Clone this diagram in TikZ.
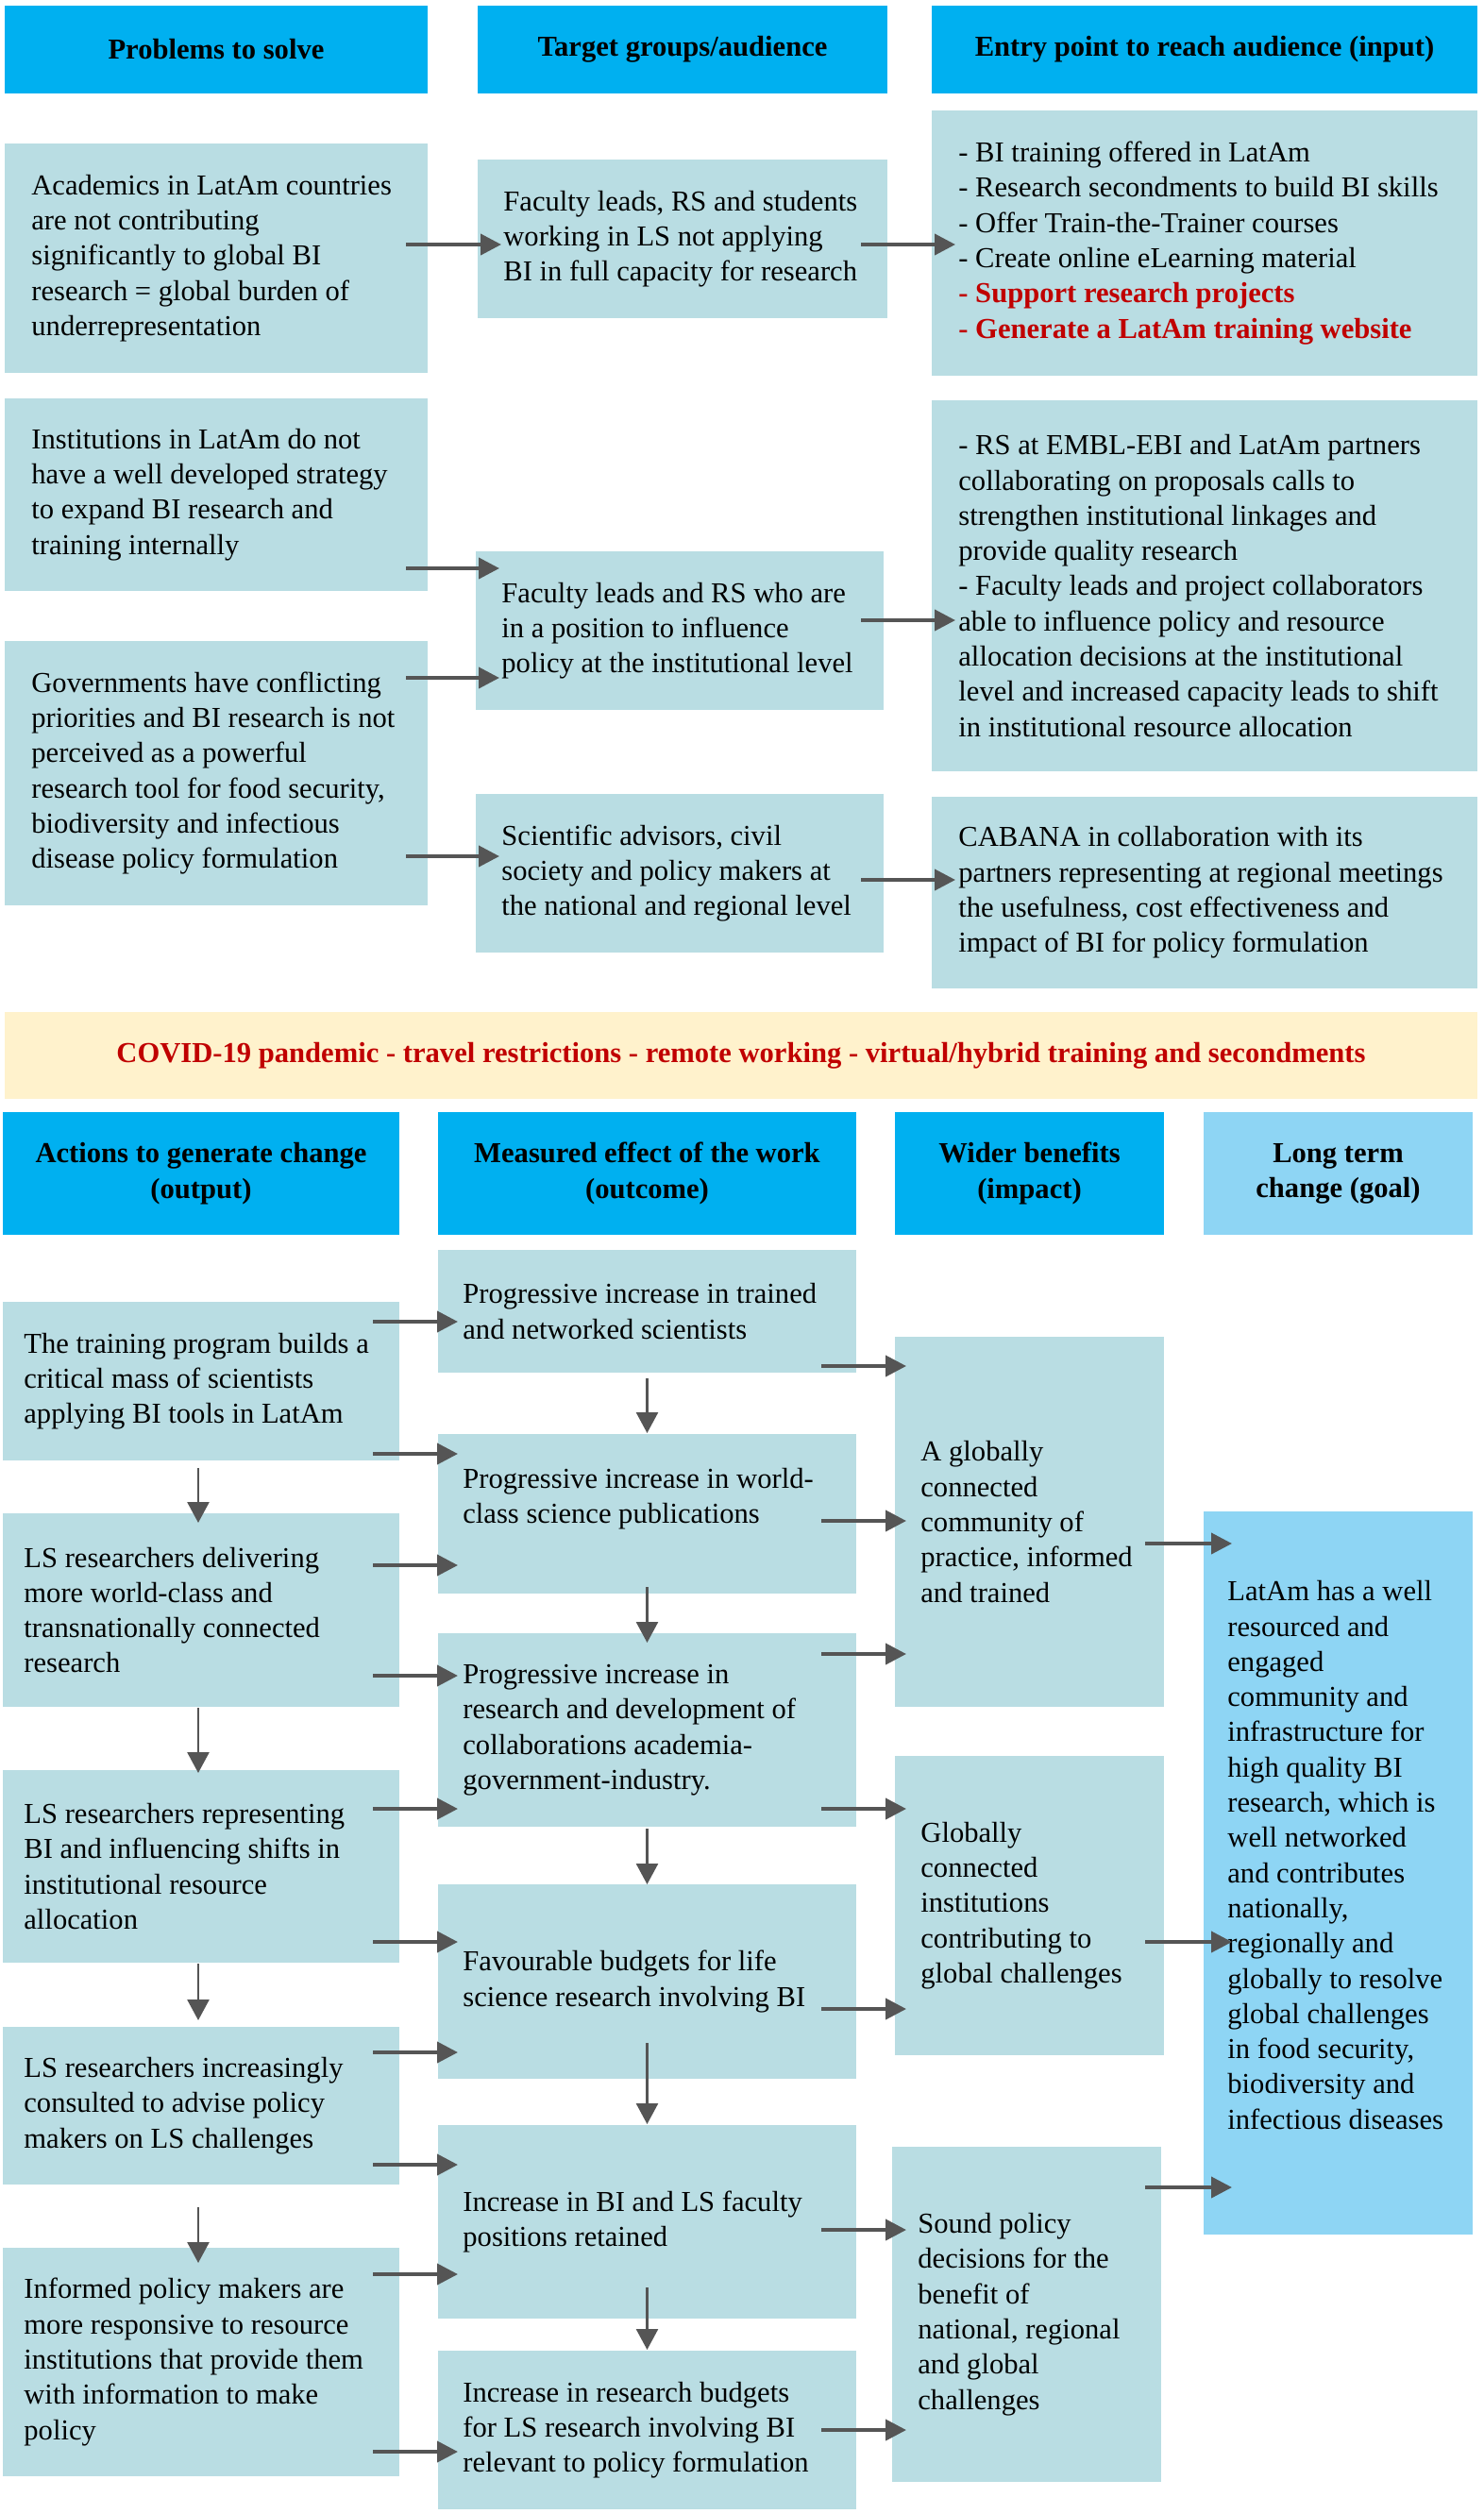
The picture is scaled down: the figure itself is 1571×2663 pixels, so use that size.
\documentclass[tikz,border=0pt]{standalone}
\usepackage{fontspec}
\setmainfont{Liberation Serif}
\usetikzlibrary{arrows.meta,calc}
\definecolor{hdr}{RGB}{0,176,240}
\definecolor{lbox}{RGB}{185,221,227}
\definecolor{goal}{RGB}{142,213,244}
\definecolor{banner}{RGB}{255,242,204}
\definecolor{redt}{RGB}{192,0,0}
\definecolor{arr}{RGB}{85,85,85}
% #1 dy, #2 style, #3 name, #4 x1, #5 y1, #6 x2, #7 y2, #8 left pad, #9 text
\newcommand\bx[9][0]{%
  \pgfmathsetmacro\bw{(#6-#4)*0.5}%
  \pgfmathsetmacro\bh{(#7-#5)*0.5}%
  \node[#2, minimum width=\bw pt, minimum height=\bh pt] (#3) at ({(#4+#6)/2},{(#5+#7)/2}) {};%
  \node[txt, anchor=west] at ($(#3.west)+(#8,#1)$) {#9};%
}
% #1 style, #2 name, #3 x1, #4 y1, #5 x2, #6 y2, #7 text
\newcommand\hd[7]{%
  \pgfmathsetmacro\bw{(#5-#3)*0.5}%
  \pgfmathsetmacro\bh{(#6-#4)*0.5}%
  \node[#1, minimum width=\bw pt, minimum height=\bh pt] (#2) at ({(#3+#5)/2},{(#4+#6)/2}) {#7};%
}
% horizontal connector: #1 from, #2 to, #3 y, #4 back-off into source, #5 overlap into target
\newcommand\ha[5]{\draw[harr] ($(#1.east|-0,#3)+(-#4,0)$) -- ($(#2.west|-0,#3)+(#5,0)$);}
% vertical connector: #1 from, #2 to, #3 dx, #4 start offset, #5 end offset
\newcommand\va[5]{\draw[varr] ($(#1.south)+(#3,#4)$) -- ($(#2.north)+(#3,#5)$);}
\begin{document}
\begin{tikzpicture}[x=0.5pt,y=-0.5pt,
  base/.style={inner sep=0pt, outer sep=0pt, draw=none},
  lb/.style={base, fill=lbox},
  gb/.style={base, fill=goal},
  hb/.style={base, fill=hdr, align=center, font=\fontsize{15.3}{18.65}\selectfont\bfseries},
  hg/.style={hb, fill=goal},
  bn/.style={base, fill=banner, align=center, text=redt, font=\fontsize{15.3}{18.65}\selectfont\bfseries},
  txt/.style={inner sep=0pt, align=left, font=\fontsize{15.3}{18.65}\selectfont},
  harr/.style={draw=arr, line width=2pt, -{Triangle[length=11pt,width=11pt]}},
  varr/.style={draw=arr, line width=1.3pt, -{Triangle[length=11pt,width=11.5pt]}}]
\fill[white] (0,0) rectangle (1571,2663);
\useasboundingbox (0,0) rectangle (1571,2663);

% ---------- section 1 headers
\hd{hb}{h1}{5}{6}{453}{99}{Problems to solve}
\hd{hb}{h2}{506}{6}{940}{99}{Target groups/audience}
\hd{hb}{h3}{987}{6}{1565}{99}{Entry point to reach audience (input)}

% ---------- section 1 boxes
\bx{lb}{p1}{5}{152}{453}{395}{28}{Academics in LatAm countries\\are not contributing\\significantly to global BI\\research = global burden of\\underrepresentation}
\bx{lb}{p2}{5}{422}{453}{626}{28}{Institutions in LatAm do not\\have a well developed strategy\\to expand BI research and\\training internally}
\bx{lb}{p3}{5}{679}{453}{959}{28}{Governments have conflicting\\priorities and BI research is not\\perceived as a powerful\\research tool for food security,\\biodiversity and infectious\\disease policy formulation}
\bx{lb}{t1}{506}{169}{940}{337}{27}{Faculty leads, RS and students\\working in LS not applying\\BI in full capacity for research}
\bx{lb}{t2}{504}{584}{936}{752}{27}{Faculty leads and RS who are\\in a position to influence\\policy at the institutional level}
\bx{lb}{t3}{504}{841}{936}{1009}{27}{Scientific advisors, civil\\society and policy makers at\\the national and regional level}
\bx{lb}{e1}{987}{117}{1565}{398}{28}{- BI training offered in LatAm\\- Research secondments to build BI skills\\- Offer Train-the-Trainer courses\\- Create online eLearning material\\\textcolor{redt}{\textbf{- Support research projects}}\\\textcolor{redt}{\textbf{- Generate a LatAm training website}}}
\bx{lb}{e2}{987}{424}{1565}{817}{28}{- RS at EMBL-EBI and LatAm partners\\collaborating on proposals calls to\\strengthen institutional linkages and\\provide quality research\\- Faculty leads and project collaborators\\able to influence policy and resource\\allocation decisions at the institutional\\level and increased capacity leads to shift\\in institutional resource allocation}
\bx{lb}{e3}{987}{844}{1565}{1047}{28}{CABANA in collaboration with its\\partners representing at regional meetings\\the usefulness, cost effectiveness and\\impact of BI for policy formulation}

% ---------- section 1 connectors
\ha{p1}{t1}{259}{23}{25}
\ha{t1}{e1}{259}{28}{25}
\ha{p2}{t2}{602}{23}{25}
\ha{p3}{t2}{718}{23}{25}
\ha{p3}{t3}{907}{23}{25}
\ha{t2}{e2}{657}{24}{25}
\ha{t3}{e3}{932}{24}{25}

% ---------- banner
\hd{bn}{covid}{5}{1072}{1565}{1164}{COVID-19 pandemic - travel restrictions - remote working - virtual/hybrid training and secondments}

% ---------- section 2 headers
\hd{hb}{ha}{3}{1178}{423}{1308}{Actions to generate change\\(output)}
\hd{hb}{hbm}{464}{1178}{907}{1308}{Measured effect of the work\\(outcome)}
\hd{hb}{hc}{948}{1178}{1233}{1308}{Wider benefits\\(impact)}
\hd{hg}{hdg}{1275}{1178}{1560}{1308}{Long term\\change (goal)}

% ---------- section 2 boxes
\bx{lb}{o1}{3}{1379}{423}{1547}{22}{The training program builds a\\critical mass of scientists\\applying BI tools in LatAm}
\bx{lb}{o2}{3}{1603}{423}{1808}{22}{LS researchers delivering\\more world-class and\\transnationally connected\\research}
\bx{lb}{o3}{3}{1875}{423}{2079}{22}{LS researchers representing\\BI and influencing shifts in\\institutional resource\\allocation}
\bx{lb}{o4}{3}{2147}{423}{2314}{22}{LS researchers increasingly\\consulted to advise policy\\makers on LS challenges}
\bx{lb}{o5}{3}{2381}{423}{2623}{22}{Informed policy makers are\\more responsive to resource\\institutions that provide them\\with information to make\\policy}

\bx{lb}{m1}{464}{1324}{907}{1454}{26}{Progressive increase in trained\\and networked scientists}
\bx[-16]{lb}{m2}{464}{1519}{907}{1688}{26}{Progressive increase in world-\\class science publications}
\bx{lb}{m3}{464}{1730}{907}{1935}{26}{Progressive increase in\\research and development of\\collaborations academia-\\government-industry.}
\bx{lb}{m4}{464}{1996}{907}{2202}{26}{Favourable budgets for life\\science research involving BI}
\bx{lb}{m5}{464}{2251}{907}{2456}{26}{Increase in BI and LS faculty\\positions retained}
\bx{lb}{m6}{464}{2490}{907}{2658}{26}{Increase in research budgets\\for LS research involving BI\\relevant to policy formulation}

\bx{lb}{w1}{948}{1416}{1233}{1808}{27}{A globally\\connected\\community of\\practice, informed\\and trained}
\bx{lb}{w2}{948}{1860}{1233}{2177}{27}{Globally\\connected\\institutions\\contributing to\\global challenges}
\bx{lb}{w3}{945}{2274}{1230}{2629}{27}{Sound policy\\decisions for the\\benefit of\\national, regional\\and global\\challenges}

\bx[-19]{gb}{g}{1275}{1601}{1560}{2367}{25}{LatAm has a well\\resourced and\\engaged\\community and\\infrastructure for\\high quality BI\\research, which is\\well networked\\and contributes\\nationally,\\regionally and\\globally to resolve\\global challenges\\in food security,\\biodiversity and\\infectious diseases}

% ---------- section 2 horizontal connectors
\ha{o1}{m1}{1400}{28}{21}
\ha{o1}{m2}{1540}{28}{21}
\ha{o2}{m2}{1658}{28}{21}
\ha{o2}{m3}{1775}{28}{21}
\ha{o3}{m3}{1916}{28}{21}
\ha{o3}{m4}{2057}{28}{21}
\ha{o4}{m4}{2174}{28}{21}
\ha{o4}{m5}{2293}{28}{21}
\ha{o5}{m5}{2409}{28}{21}
\ha{o5}{m6}{2597}{28}{21}

\ha{m1}{w1}{1447}{37}{12}
\ha{m2}{w1}{1611}{37}{12}
\ha{m3}{w1}{1752}{37}{12}
\ha{m3}{w2}{1916}{37}{12}
\ha{m4}{w2}{2128}{37}{12}
\ha{m5}{w3}{2362}{37}{15}
\ha{m6}{w3}{2574}{37}{15}

\ha{w1}{g}{1635}{20}{30}
\ha{w2}{g}{2057}{20}{30}
\ha{w3}{g}{2317}{17}{30}

% ---------- section 2 vertical connectors
\va{m1}{m2}{0}{6}{-1}
\va{m2}{m3}{0}{-7}{10}
\va{m3}{m4}{0}{2}{0}
\va{m4}{m5}{0}{-38}{-1}
\va{m5}{m6}{0}{-33}{-1}
\va{o1}{o2}{-3}{8}{10}
\va{o2}{o3}{-3}{1}{3}
\va{o3}{o4}{-3}{1}{-7}
\va{o4}{o5}{-3}{24}{16}
\end{tikzpicture}
\end{document}
